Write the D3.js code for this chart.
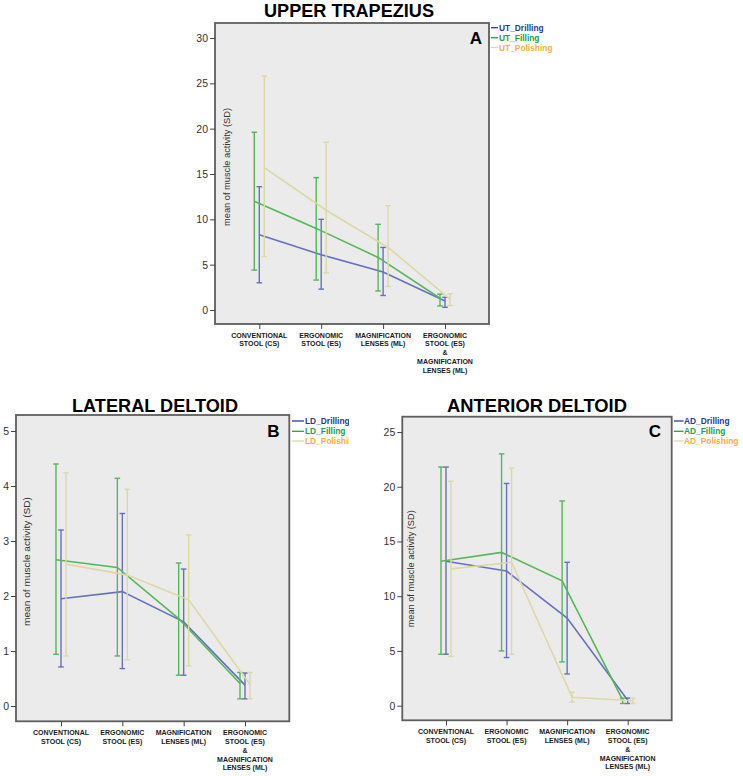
<!DOCTYPE html>
<html>
<head>
<meta charset="utf-8">
<script src="https://cdn.jsdelivr.net/npm/d3@7/dist/d3.min.js"></script>
<style>
  html, body { margin: 0; padding: 0; background: #ffffff; }
  svg { display: block; }
</style>
</head>
<body>
<svg id="chart" width="743" height="776"></svg>
<script>
// ---------------- DATA ----------------
const categories = [
  ["CONVENTIONAL", "STOOL (CS)"],
  ["ERGONOMIC", "STOOL (ES)"],
  ["MAGNIFICATION", "LENSES (ML)"],
  ["ERGONOMIC", "STOOL (ES)", "&", "MAGNIFICATION", "LENSES (ML)"]
];
const seriesNames = ["Drilling", "Filling", "Polishing"];

// Upper trapezius (A)
const utTicks = [0, 5, 10, 15, 20, 25, 30];
const utDrillingMean = [8.3, 6.1, 4.2, 1.0];
const utDrillingLow  = [3.0, 2.3, 1.6, 0.3];
const utDrillingHigh = [13.6, 10.0, 6.9, 1.4];
const utFillingMean  = [12.0, 9.0, 5.8, 1.3];
const utFillingLow   = [4.4, 3.3, 2.1, 0.45];
const utFillingHigh  = [19.6, 14.6, 9.45, 1.75];
const utPolishingMean = [15.7, 11.0, 6.9, 1.2];
const utPolishingLow  = [5.9, 4.1, 2.6, 0.5];
const utPolishingHigh = [25.8, 18.5, 11.5, 1.8];

// Lateral deltoid (B)
const ldTicks = [0, 1, 2, 3, 4, 5];
const ldDrillingMean = [1.95, 2.08, 1.53, 0.38];
const ldDrillingLow  = [0.71, 0.68, 0.56, 0.13];
const ldDrillingHigh = [3.2, 3.5, 2.49, 0.6];
const ldFillingMean  = [2.66, 2.52, 1.59, 0.41];
const ldFillingLow   = [0.94, 0.91, 0.56, 0.13];
const ldFillingHigh  = [4.4, 4.14, 2.6, 0.61];
const ldPolishingMean = [2.58, 2.38, 1.93, 0.39];
const ldPolishingLow  = [0.91, 0.84, 0.73, 0.13];
const ldPolishingHigh = [4.24, 3.94, 3.11, 0.61];

// Anterior deltoid (C)
const adTicks = [0, 5, 10, 15, 20, 25];
const adDrillingMean = [13.2, 12.3, 8.0, 0.5];
const adDrillingLow  = [4.7, 4.4, 2.9, 0.2];
const adDrillingHigh = [21.8, 20.3, 13.1, 0.7];
const adFillingMean  = [13.2, 14.0, 11.4, 0.5];
const adFillingLow   = [4.7, 5.0, 4.0, 0.2];
const adFillingHigh  = [21.8, 23.0, 18.7, 0.7];
const adPolishingMean = [12.5, 13.1, 0.77, 0.45];
const adPolishingLow  = [4.5, 4.7, 0.34, 0.2];
const adPolishingHigh = [20.5, 21.7, 1.22, 0.67];

// ---------------- STYLE / LAYOUT ----------------
const lineColors = { Drilling: "#6670bd", Filling: "#58b65a", Polishing: "#ddd8a6" };
const legendColors = { Drilling: "#2b3a92", Filling: "#22a046", Polishing: "#f4b044" };
const offsets = { Drilling: 0, Filling: -5, Polishing: 5 };

const panels = [
  {
    prefix: "UT", title: "UPPER TRAPEZIUS", titleLen: 170, titleX: 349, titleY: 16.7,
    letter: "A", letterX: 476, letterY: 44,
    frame: { x0: 215, x1: 489, y0: 23, y1: 324 },
    xRange: [259.3, 445], yDomain: [0, 30], yRange: [310, 38], ticks: utTicks,
    ylabX: 229.5, ylabBottom: 226, ylabLen: 118,
    legend: { lx0: 491, lx1: 498, tx: 499, ys: [30.7, 40.7, 50.5] }, clipX: null,
    data: {
      Drilling: [utDrillingMean, utDrillingLow, utDrillingHigh],
      Filling: [utFillingMean, utFillingLow, utFillingHigh],
      Polishing: [utPolishingMean, utPolishingLow, utPolishingHigh]
    }
  },
  {
    prefix: "LD", title: "LATERAL  DELTOID", titleLen: 166, titleX: 155, titleY: 411.7,
    letter: "B", letterX: 273.5, letterY: 437,
    frame: { x0: 16, x1: 289.3, y0: 415, y1: 721.3 },
    xRange: [61, 245], yDomain: [0, 5], yRange: [706, 431], ticks: ldTicks,
    ylabX: 29.5, ylabBottom: 626, ylabLen: 129,
    legend: { lx0: 292, lx1: 304, tx: 305, ys: [424, 434.3, 444] }, clipX: 349,
    data: {
      Drilling: [ldDrillingMean, ldDrillingLow, ldDrillingHigh],
      Filling: [ldFillingMean, ldFillingLow, ldFillingHigh],
      Polishing: [ldPolishingMean, ldPolishingLow, ldPolishingHigh]
    }
  },
  {
    prefix: "AD", title: "ANTERIOR  DELTOID", titleLen: 180, titleX: 537, titleY: 411.7,
    letter: "C", letterX: 655, letterY: 436.7,
    frame: { x0: 402.3, x1: 671.7, y0: 416.7, y1: 720.3 },
    xRange: [446, 627.7], yDomain: [0, 25], yRange: [705.7, 432], ticks: adTicks,
    ylabX: 414, ylabBottom: 627.3, ylabLen: 117,
    legend: { lx0: 674, lx1: 683.5, tx: 684, ys: [424, 434.3, 444] }, clipX: null,
    data: {
      Drilling: [adDrillingMean, adDrillingLow, adDrillingHigh],
      Filling: [adFillingMean, adFillingLow, adFillingHigh],
      Polishing: [adPolishingMean, adPolishingLow, adPolishingHigh]
    }
  }
];

const svg = d3.select("#chart");
const defs = svg.append("defs");
const FONT = "'Liberation Sans', Arial, sans-serif";

panels.forEach((p, pi) => {
  const g = svg.append("g");
  const f = p.frame;
  const x = d3.scalePoint().domain(d3.range(categories.length)).range(p.xRange);
  const y = d3.scaleLinear().domain(p.yDomain).range(p.yRange);

  // plot background + frame
  g.append("rect")
    .attr("x", f.x0).attr("y", f.y0)
    .attr("width", f.x1 - f.x0).attr("height", f.y1 - f.y0)
    .attr("fill", "#ebebeb").attr("stroke", "#5e5e5e").attr("stroke-width", 1.8);

  // y axis
  const yAxis = d3.axisLeft(y).tickValues(p.ticks).tickSize(5).tickPadding(2).tickFormat(d3.format("d"));
  const ya = g.append("g").attr("transform", `translate(${f.x0},0)`).call(yAxis);
  ya.select(".domain").remove();
  ya.selectAll(".tick line").attr("stroke", "#444").attr("stroke-width", 1);
  ya.selectAll(".tick text").attr("font-family", FONT).attr("font-size", 10.5).attr("fill", "#333");

  // x axis ticks + labels
  const xAxis = d3.axisBottom(x).tickSize(5).tickFormat("");
  const xa = g.append("g").attr("transform", `translate(0,${f.y1})`).call(xAxis);
  xa.select(".domain").remove();
  xa.selectAll(".tick line").attr("stroke", "#444").attr("stroke-width", 1);
  categories.forEach((lines, i) => {
    const t = g.append("text")
      .attr("x", x(i)).attr("y", f.y1 + 13.5)
      .attr("text-anchor", "middle")
      .attr("font-family", FONT).attr("font-weight", "bold")
      .attr("font-size", 7).attr("fill", "#1a1a1a");
    lines.forEach((ln, j) => {
      t.append("tspan").attr("x", x(i)).attr("dy", j === 0 ? 0 : 8.9).text(ln);
    });
  });

  // y axis label (inside frame)
  g.append("text")
    .attr("transform", `translate(${p.ylabX},${p.ylabBottom}) rotate(-90)`)
    .attr("text-anchor", "start")
    .attr("font-family", FONT).attr("font-size", 9.8).attr("fill", "#333")
    .attr("textLength", p.ylabLen).attr("lengthAdjust", "spacingAndGlyphs")
    .text("mean of muscle activity (SD)");

  // series: error bars then lines
  const line = d3.line().x(d => d.x).y(d => y(d.v));
  seriesNames.forEach(name => {
    const [mean, lo, hi] = p.data[name];
    const col = lineColors[name];
    const off = offsets[name];
    const sg = g.append("g");
    mean.forEach((m, i) => {
      const cx = x(i) + off;
      sg.append("line").attr("x1", cx).attr("x2", cx)
        .attr("y1", y(lo[i])).attr("y2", y(hi[i]))
        .attr("stroke", col).attr("stroke-width", 1.4);
      [lo[i], hi[i]].forEach(v => {
        sg.append("line").attr("x1", cx - 2.8).attr("x2", cx + 2.8)
          .attr("y1", y(v)).attr("y2", y(v))
          .attr("stroke", col).attr("stroke-width", 1.4);
      });
    });
    const pts = mean.map((m, i) => ({ x: x(i) + off, v: m }));
    sg.append("path").attr("d", line(pts))
      .attr("fill", "none").attr("stroke", col).attr("stroke-width", 1.6);
  });

  // title
  g.append("text")
    .attr("x", p.titleX).attr("y", p.titleY)
    .attr("text-anchor", "middle")
    .attr("font-family", FONT).attr("font-weight", "bold").attr("font-size", 18)
    .attr("textLength", p.titleLen).attr("lengthAdjust", "spacingAndGlyphs")
    .attr("fill", "#000")
    .text(p.title);

  // panel letter
  g.append("text")
    .attr("x", p.letterX).attr("y", p.letterY)
    .attr("text-anchor", "middle")
    .attr("font-family", FONT).attr("font-weight", "bold").attr("font-size", 17)
    .attr("fill", "#000").text(p.letter);

  // legend
  let lg = g.append("g");
  if (p.clipX) {
    defs.append("clipPath").attr("id", "clip" + pi)
      .append("rect").attr("x", 0).attr("y", 0).attr("width", p.clipX).attr("height", 776);
    lg.attr("clip-path", `url(#clip${pi})`);
  }
  seriesNames.forEach((name, k) => {
    const ly = p.legend.ys[k];
    lg.append("line")
      .attr("x1", p.legend.lx0).attr("x2", p.legend.lx1)
      .attr("y1", ly - 3).attr("y2", ly - 3)
      .attr("stroke", k === 2 ? lineColors[name] : legendColors[name]).attr("stroke-width", 1.3);
    lg.append("text")
      .attr("x", p.legend.tx).attr("y", ly)
      .attr("font-family", FONT).attr("font-weight", "bold").attr("font-size", 8.4)
      .attr("fill", legendColors[name])
      .text(p.prefix + "_" + name);
  });
});
</script>
</body>
</html>
